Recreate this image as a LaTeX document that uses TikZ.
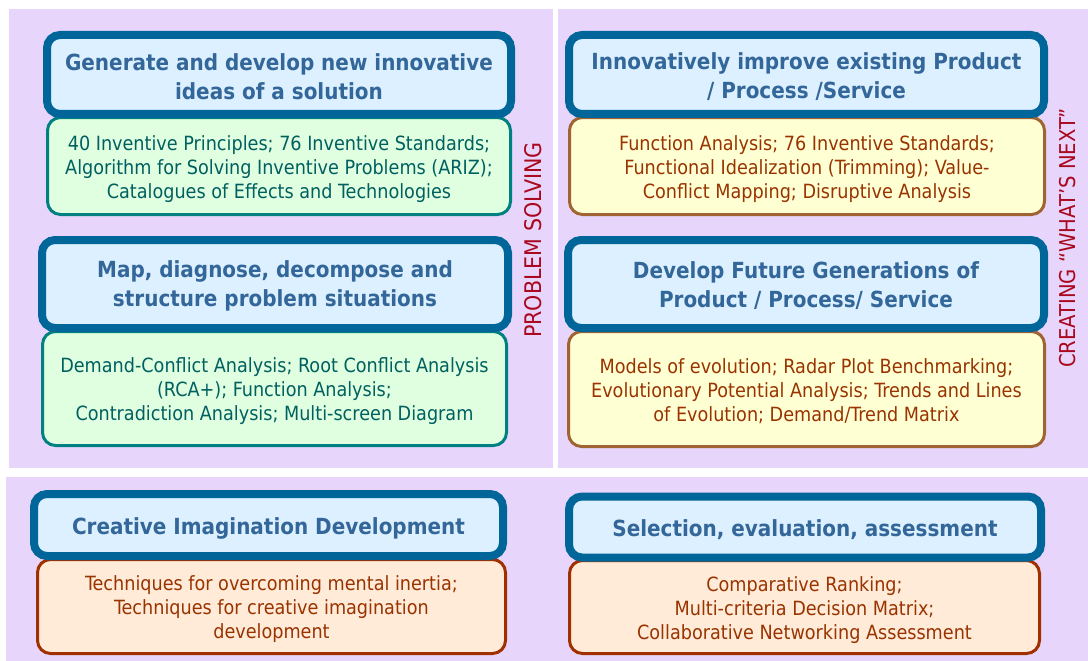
\documentclass[tikz,border=0pt]{standalone}
\usepackage{fontspec}
\setmainfont{DejaVu Sans Condensed}
\definecolor{panel}{RGB}{232,213,252}
\definecolor{hdrfill}{RGB}{220,240,255}
\definecolor{hdrline}{RGB}{0,102,153}
\definecolor{hdrtext}{RGB}{51,102,153}
\definecolor{grnfill}{RGB}{224,255,224}
\definecolor{grnline}{RGB}{0,128,128}
\definecolor{grntext}{RGB}{0,96,96}
\definecolor{ylwfill}{RGB}{255,255,212}
\definecolor{ylwline}{RGB}{160,100,50}
\definecolor{orgfill}{RGB}{255,235,216}
\definecolor{orgline}{RGB}{160,48,0}
\definecolor{bodytext}{RGB}{153,51,0}
\definecolor{sidetext}{RGB}{170,8,30}
\tikzset{
  hdr/.style={draw=hdrline, line width=8pt, fill=hdrfill, rounded corners=13pt,
    inner sep=0pt, outer sep=0pt},
  hdrtxt/.style={text=hdrtext, font=\fontsize{22.2}{29}\selectfont\bfseries,
    align=center, inner sep=0pt},
  bodybox/.style={line width=3pt, rounded corners=13pt, inner sep=0pt, outer sep=0pt},
  bodytxt/.style={align=center, font=\fontsize{19.6}{24}\selectfont, inner sep=0pt},
  grn/.style={bodybox, draw=grnline, fill=grnfill},
  ylw/.style={bodybox, draw=ylwline, fill=ylwfill},
  org/.style={bodybox, draw=orgline, fill=orgfill},
  grntxt/.style={bodytxt, text=grntext},
  brntxt/.style={bodytxt, text=bodytext},
  side/.style={rotate=90, text=sidetext, inner sep=0pt},
  panelbox/.style={fill=panel, draw=none}
}
\begin{document}
\begin{tikzpicture}[x=1pt,y=-1pt]
\useasboundingbox (0,0) rectangle (1088,661);
\fill[white] (0,0) rectangle (1088,661);
% panels
\path[panelbox] (9,9) rectangle (553,468);
\path[panelbox] (558,9) rectangle (1088,468);
\path[panelbox] (6,477) rectangle (1088,661);
% top-left
\node[grn, minimum width=463pt, minimum height=97pt] (tlb) at (279,166) {};
\node[grntxt] (tlbt) at ([yshift=-3pt]tlb.center)
  {40 Inventive Principles; 76 Inventive Standards;\\Algorithm for Solving Inventive Problems (ARIZ);\\Catalogues of Effects and Technologies};
\node[hdr, minimum width=464pt, minimum height=79pt] (tlh) at (279,74.5) {};
\node[hdrtxt] (tlht) at ([yshift=-2pt]tlh.center)
  {Generate and develop new innovative\\ideas of a solution};
% middle-left
\node[grn, minimum width=464pt, minimum height=114pt] (mlb) at (274.5,388.5) {};
\node[grntxt] (mlbt) at ([yshift=-2.5pt]mlb.center)
  {Demand-Conflict Analysis; Root Conflict Analysis\\(RCA+); Function Analysis;\\Contradiction Analysis; Multi-screen Diagram};
\node[hdr, minimum width=466pt, minimum height=88pt] (mlh) at (275,284) {};
\node[hdrtxt] (mlht) at ([yshift=-2pt]mlh.center)
  {Map, diagnose, decompose and\\structure problem situations};
% top-right
\node[ylw, minimum width=475pt, minimum height=97pt] (trb) at (807,166) {};
\node[brntxt] (trbt) at ([yshift=-3pt]trb.center)
  {Function Analysis; 76 Inventive Standards;\\Functional Idealization (Trimming); Value-\\Conflict Mapping; Disruptive Analysis};
\node[hdr, minimum width=475pt, minimum height=79pt] (trh) at (806.5,74.5) {};
\node[hdrtxt] (trht) at ([yshift=-2pt]trh.center)
  {Innovatively improve existing Product\\/ Process /Service};
% middle-right
\node[ylw, minimum width=476pt, minimum height=115pt] (mrb) at (806.5,389) {};
\node[brntxt] (mrbt) at ([yshift=-2.5pt]mrb.center)
  {Models of evolution; Radar Plot Benchmarking;\\Evolutionary Potential Analysis; Trends and Lines\\of Evolution; Demand/Trend Matrix};
\node[hdr, minimum width=476pt, minimum height=88pt] (mrh) at (806,284) {};
\node[hdrtxt] (mrht) at ([yshift=-2pt]mrh.center)
  {Develop Future Generations of\\Product / Process/ Service};
% bottom-left
\node[org, minimum width=468pt, minimum height=94pt] (blb) at (271.5,606.5) {};
\node[brntxt] (blbt) at ([yshift=-3pt]blb.center)
  {Techniques for overcoming mental inertia;\\Techniques for creative imagination\\development};
\node[hdr, minimum width=469pt, minimum height=62pt] (blh) at (268.5,525) {};
\node[hdrtxt] (blht) at ([yshift=-3.5pt]blh.center)
  {Creative Imagination Development};
% bottom-right
\node[org, minimum width=470pt, minimum height=93pt] (brb) at (804.5,607) {};
\node[brntxt] (brbt) at ([yshift=-3pt]brb.center)
  {Comparative Ranking;\\Multi-criteria Decision Matrix;\\Collaborative Networking Assessment};
\node[hdr, minimum width=472pt, minimum height=61pt] (brh) at (805,527) {};
\node[hdrtxt] (brht) at ([yshift=-3pt]brh.center)
  {Selection, evaluation, assessment};
% side labels
\node[side, font=\fontsize{22.9}{26}\selectfont] (ps) at (533,240) {PROBLEM SOLVING};
\node[side, font=\fontsize{21.8}{26}\selectfont] (cw) at (1068,238) {CREATING “WHAT’S NEXT”};
\end{tikzpicture}
\end{document}
